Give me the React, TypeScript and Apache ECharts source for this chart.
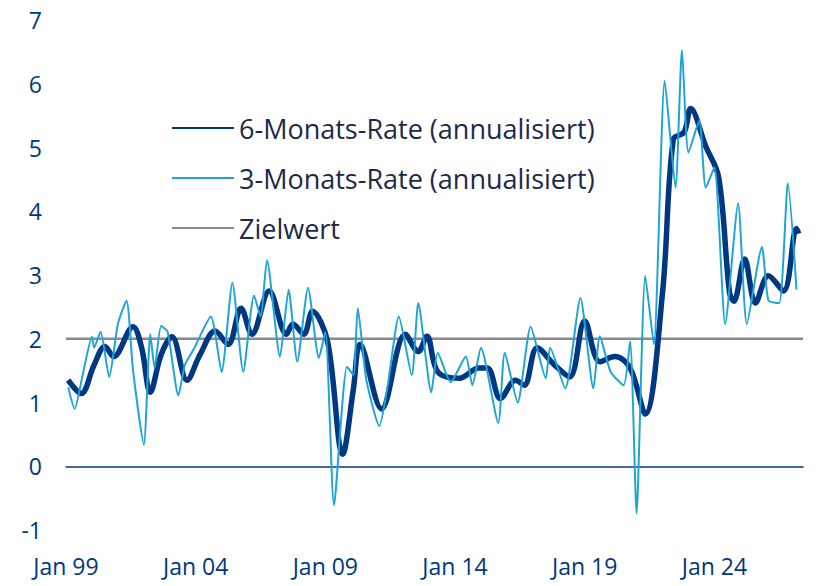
import { useEffect, useRef } from "react";
import * as echarts from "echarts";

// months since Jan 1999
const sixMonths = [1, 7, 13, 18, 22, 31, 35, 39, 44, 49, 56, 62, 69, 75, 81, 86, 94, 102, 105, 110, 114, 121, 128, 133, 136, 146, 157, 163, 167, 172, 182, 191, 195, 201, 208, 212, 218, 226, 233, 240, 247, 254, 261, 268, 276, 281, 286, 289, 296, 302, 307, 309, 314, 319, 325, 332, 338, 339];
const sixValues = [1.35, 1.14, 1.59, 1.88, 1.72, 2.19, 1.86, 1.16, 1.75, 2.03, 1.35, 1.75, 2.12, 1.91, 2.48, 2.07, 2.75, 2.07, 2.23, 2.07, 2.43, 1.96, 0.19, 1.22, 1.91, 0.9, 2.07, 1.8, 2.04, 1.48, 1.38, 1.54, 1.54, 1.06, 1.35, 1.27, 1.86, 1.59, 1.4, 2.28, 1.64, 1.72, 1.54, 0.82, 2.72, 5.13, 5.24, 5.61, 5.02, 4.53, 2.72, 2.59, 3.25, 2.56, 2.99, 2.75, 3.73, 3.65];
const threeMonths = [1, 4, 8, 12, 13, 16, 20, 24, 28, 31, 36, 39, 41, 44, 47, 52, 55, 59, 67, 72, 77, 82, 87, 90, 93, 99, 103, 107, 112, 117, 120, 124, 130, 133, 135, 139, 145, 149, 154, 160, 163, 169, 172, 178, 185, 188, 192, 200, 203, 209, 215, 222, 224, 231, 238, 244, 247, 252, 258, 261, 264, 268, 272, 277, 282, 285, 288, 293, 296, 300, 305, 311, 315, 322, 325, 330, 334, 338];
const threeValues = [1.24, 0.9, 1.48, 2.03, 1.86, 2.11, 1.4, 2.23, 2.6, 1.51, 0.34, 2.07, 1.54, 2.2, 2.11, 1.11, 1.59, 1.83, 2.35, 1.48, 2.88, 1.48, 2.68, 2.35, 3.23, 1.72, 2.77, 1.64, 2.8, 1.7, 2.11, -0.61, 1.56, 1.43, 2.48, 1.35, 0.63, 1.3, 2.35, 1.43, 2.56, 1.16, 1.78, 1.32, 1.72, 1.27, 1.86, 0.68, 1.78, 1.0, 2.19, 1.38, 1.86, 1.22, 2.64, 1.22, 2.04, 1.48, 1.27, 1.96, -0.74, 2.99, 1.91, 6.05, 4.37, 6.53, 4.92, 5.42, 4.37, 4.69, 2.23, 4.12, 2.23, 3.44, 2.6, 2.56, 4.44, 2.77];
const target = 2;
const lastMonth = 341;

const navy = "#003781";
const light = "#1ea5d6";
const grey = "#8a8a8a";

export default function App() {
  const ref = useRef<HTMLDivElement>(null);

  useEffect(() => {
    const chart = echarts.init(ref.current, null, { renderer: "svg" });
    chart.setOption({
      animation: false,
      textStyle: { fontFamily: "Open Sans" },
      grid: { left: 58, right: 21, top: 12, bottom: 56 },
      legend: {
        orient: "vertical",
        left: 158,
        top: 98,
        itemWidth: 62,
        itemHeight: 14,
        itemGap: 16,
        textStyle: { fontSize: 27, lineHeight: 34, color: "#1b2a4a", fontFamily: "Open Sans" },
        data: [
          { name: "6-Monats-Rate (annualisiert)", itemStyle: { opacity: 0 } },
          { name: "3-Monats-Rate (annualisiert)", itemStyle: { opacity: 0 } },
          { name: "Zielwert", itemStyle: { opacity: 0 } },
        ],
      },
      xAxis: {
        type: "value",
        min: 0,
        max: lastMonth,
        interval: 60,
        axisLine: { onZero: true, lineStyle: { color: navy, width: 1.5 } },
        axisTick: { show: false },
        splitLine: { show: false },
        axisLabel: {
          color: navy,
          fontSize: 23,
          margin: 24,
          formatter: (v: number) => (v % 60 === 0 && v <= 300 ? "Jan " + String((99 + v / 12) % 100).padStart(2, "0") : ""),
        },
      },
      yAxis: {
        type: "value",
        min: -1,
        max: 7,
        interval: 1,
        axisLine: { show: false },
        axisTick: { show: false },
        splitLine: { show: false },
        axisLabel: { color: navy, fontSize: 23, margin: 24 },
      },
      series: [
        {
          name: "Zielwert",
          type: "line",
          symbol: "none",
          lineStyle: { color: grey, width: 2.5 },
          itemStyle: { color: grey },
          data: [[0, target], [lastMonth, target]],
          z: 1,
        },
        {
          name: "6-Monats-Rate (annualisiert)",
          type: "line",
          symbol: "none",
          smooth: 0.35,
          lineStyle: { color: navy, width: 5.5 },
          itemStyle: { color: navy },
          data: sixMonths.map((m, i) => [m, sixValues[i]]),
          z: 2,
        },
        {
          name: "3-Monats-Rate (annualisiert)",
          type: "line",
          symbol: "none",
          smooth: 0.2,
          lineStyle: { color: light, width: 2 },
          itemStyle: { color: light },
          data: threeMonths.map((m, i) => [m, threeValues[i]]),
          z: 3,
        },
      ],
    });
    return () => chart.dispose();
  }, []);

  return <div ref={ref} style={{ width: 816, height: 578 }} />;
}
